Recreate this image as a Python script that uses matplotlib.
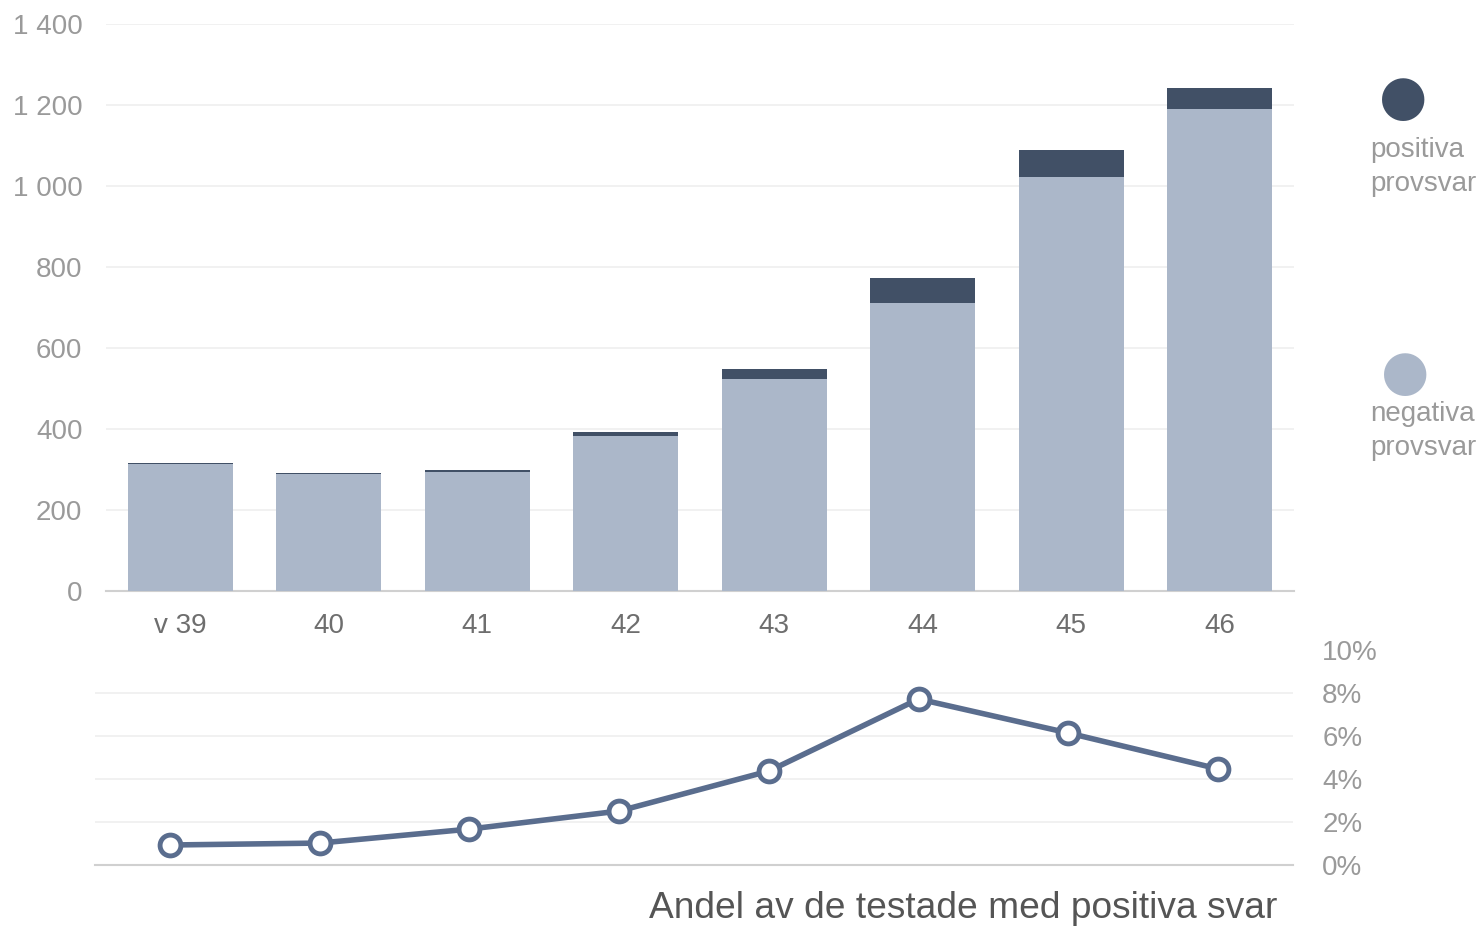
import matplotlib
matplotlib.use("Agg")
import matplotlib.pyplot as plt
from matplotlib.ticker import FuncFormatter

plt.rcParams["font.family"] = ["Liberation Sans", "DejaVu Sans"]

weeks = ["v 39", "40", "41", "42", "43", "44", "45", "46"]
negative = [313, 288, 295, 383, 524, 712, 1022, 1189]
positive = [3, 3, 4, 10, 24, 60, 67, 54]
share_pct = [0.93, 1.02, 1.67, 2.51, 4.37, 7.72, 6.14, 4.47]

DARK = "#415066"
LIGHT = "#abb7c9"
LINE = "#5a6d8e"
GRID = "#efefef"
TICK = "#9a9a9a"

W, H = 1483, 926
fig = plt.figure(figsize=(W / 100, H / 100), dpi=100)


def box(left, top, right, bottom):
    return [left / W, 1 - bottom / H, (right - left) / W, (bottom - top) / H]


# stacked bars
ax = fig.add_axes(box(106, 24, 1294, 591))
x = range(len(weeks))
ax.bar(x, negative, width=0.71, color=LIGHT, zorder=3)
ax.bar(x, positive, width=0.71, bottom=negative, color=DARK, zorder=3)
ax.set_xlim(-0.5, len(weeks) - 0.5)
ax.set_ylim(0, 1400)
ax.set_yticks(range(0, 1401, 200))
ax.yaxis.set_major_formatter(FuncFormatter(lambda v, p: f"{int(v):,}".replace(",", " ")))
ax.set_xticks(list(x))
ax.set_xticklabels(weeks)
ax.grid(axis="y", color=GRID, linewidth=1.2, zorder=0)
for s in ["top", "right", "left"]:
    ax.spines[s].set_visible(False)
ax.spines["bottom"].set_color("#d0d0d0")
ax.spines["bottom"].set_linewidth(1.5)
ax.tick_params(axis="y", length=0, pad=17, labelsize=20, labelcolor=TICK)
ax.tick_params(axis="x", length=0, pad=16, labelsize=20, labelcolor="#6e6e6e")

# legend on the right
fig.text(1403 / W, 1 - 99 / H, "●", color=DARK, fontsize=40, ha="center", va="center",
         family=["DejaVu Sans"])
fig.text(1370 / W, 1 - 167 / H, "positiva\nprovsvar", color=TICK, fontsize=20,
         ha="left", va="center", linespacing=1.38)
fig.text(1405 / W, 1 - 374 / H, "●", color=LIGHT, fontsize=40, ha="center", va="center",
         family=["DejaVu Sans"])
fig.text(1370 / W, 1 - 431 / H, "negativa\nprovsvar", color=TICK, fontsize=20,
         ha="left", va="center", linespacing=1.38)

# share of positive tests
ax2 = fig.add_axes(box(95, 650, 1293, 865))
ax2.plot(range(len(weeks)), share_pct, color=LINE, linewidth=4, marker="o",
         markersize=15, markerfacecolor="white", markeredgecolor=LINE,
         markeredgewidth=3.5, zorder=3, clip_on=False)
ax2.set_xlim(-0.5, len(weeks) - 0.5)
ax2.set_ylim(0, 10)
ax2.set_yticks(range(0, 11, 2))
ax2.yaxis.set_major_formatter(FuncFormatter(lambda v, p: f"{int(v)}%"))
ax2.yaxis.tick_right()
ax2.set_xticks([])
for v in range(2, 10, 2):
    ax2.axhline(v, color=GRID, linewidth=1.2, zorder=0)
for s in ["top", "right", "left"]:
    ax2.spines[s].set_visible(False)
ax2.spines["bottom"].set_color("#d0d0d0")
ax2.spines["bottom"].set_linewidth(1.5)
ax2.tick_params(axis="y", length=0, pad=21, labelsize=20, labelcolor=TICK)

fig.text(1277 / W, 1 - 908 / H, "Andel av de testade med positiva svar", color="#555555",
         fontsize=26.7, ha="right", va="center")

fig.savefig("out.png", dpi=100)
